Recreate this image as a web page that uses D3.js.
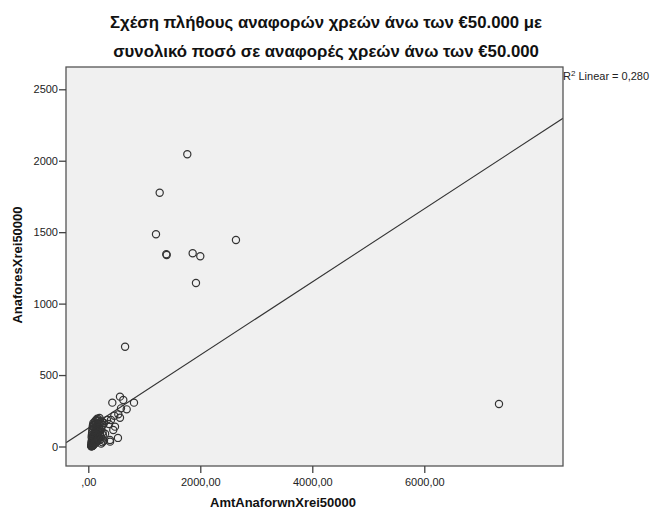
<!DOCTYPE html>
<html>
<head>
<meta charset="utf-8">
<script src="https://cdn.jsdelivr.net/npm/d3@7"></script>
<style>
  html, body { margin: 0; padding: 0; background: #fff; }
  svg { display: block; font-family: "Liberation Sans", Arial, sans-serif; }
</style>
</head>
<body>
<svg id="chart" width="654" height="511"></svg>
<script>
// Amount of debt reports above €50.000 (x) vs number of such reports (y)
const amountValues = [
  // high-count group
  1768, 1275, 1209, 1393, 1400, 1864, 2000, 2637, 1923, 657, 7334,
  // mid group near the fit line
  566, 625, 429, 816, 686, 584, 536, 464, 566, 446, 387, 477, 530, 389, 334, 280, 370, 405,
  // dense low group
  52, 55, 58, 60, 63, 65, 68, 70, 72, 75, 78, 80, 83, 85, 88, 90, 93, 95, 98, 100,
  55, 58, 62, 66, 70, 74, 78, 82, 86, 90, 94, 98, 102, 106, 110, 115, 120, 125, 130, 135,
  140, 145, 150, 155, 160, 165, 170, 175, 180, 185, 190, 200, 210, 215, 225, 235, 245, 255, 265,
  60, 64, 68, 72, 76, 80, 85, 92, 100, 108, 118, 128, 138, 148, 160, 172, 185, 200,
  105, 115, 130, 145, 160, 175, 190, 205, 220, 240, 260, 280, 300, 230, 250
];
const reportCounts = [
  2045, 1776, 1485, 1345, 1340, 1352, 1331, 1445, 1144, 698, 297,
  349, 325, 307, 307, 260, 267, 225, 215, 201, 115, 45, 139, 60, 34, 185, 164, 157, 185,
  2, 5, 1, 8, 3, 12, 6, 15, 4, 10, 20, 7, 14, 25, 9, 18, 30, 12, 22, 35,
  18, 28, 40, 32, 50, 45, 60, 38, 55, 70, 48, 80, 62, 90, 42, 75, 100, 58, 110, 85,
  125, 65, 95, 135, 72, 115, 145, 88, 160, 105, 130, 150, 95, 170, 120, 140, 175, 100, 150,
  65, 80, 95, 110, 125, 140, 150, 165, 130, 155, 170, 180, 160, 185, 195, 178, 190, 200,
  20, 30, 25, 40, 35, 50, 60, 45, 70, 55, 80, 40, 90, 20, 30
];

// Linear fit: count = intercept + slope * amount
const fitIntercept = 128.4;
const fitSlope = 0.2558;
const fitLabel = ["R", "2", " Linear = 0,280"];

const titleLines = [
  "Σχέση πλήθους αναφορών χρεών άνω των €50.000 με",
  "συνολικό ποσό σε αναφορές χρεών άνω των €50.000"
];
const xTitle = "AmtAnaforwnXrei50000";
const yTitle = "AnaforesXrei50000";

const xTickValues = [0, 2000, 4000, 6000];
const xTickLabels = [",00", "2000,00", "4000,00", "6000,00"];
const yTickValues = [0, 500, 1000, 1500, 2000, 2500];
const yTickLabels = ["0", "500", "1000", "1500", "2000", "2500"];

const points = amountValues.map((a, i) => ({ x: a, y: reportCounts[i] }));

const svg = d3.select("#chart");
const frame = { left: 66, right: 563, top: 67, bottom: 466 };

const x = d3.scaleLinear().domain([-398, 8477]).range([frame.left, frame.right]);
const y = d3.scaleLinear().domain([-136.5, 2656]).range([frame.bottom, frame.top]);

// plot background
svg.append("rect")
  .attr("x", frame.left).attr("y", frame.top)
  .attr("width", frame.right - frame.left).attr("height", frame.bottom - frame.top)
  .attr("fill", "#f0f0f0");

svg.append("clipPath").attr("id", "plotclip")
  .append("rect")
  .attr("x", frame.left).attr("y", frame.top)
  .attr("width", frame.right - frame.left).attr("height", frame.bottom - frame.top);

// fit line
const xd = x.domain();
svg.append("line")
  .attr("clip-path", "url(#plotclip)")
  .attr("x1", x(xd[0])).attr("y1", y(fitIntercept + fitSlope * xd[0]))
  .attr("x2", x(xd[1])).attr("y2", y(fitIntercept + fitSlope * xd[1]))
  .attr("stroke", "#333").attr("stroke-width", 1.1);

// points
svg.append("g").attr("clip-path", "url(#plotclip)")
  .selectAll("circle").data(points).join("circle")
  .attr("cx", d => x(d.x)).attr("cy", d => y(d.y))
  .attr("r", 3.6)
  .attr("fill", "none")
  .attr("stroke", "#333")
  .attr("stroke-width", 1.2);

// frame
svg.append("rect")
  .attr("x", frame.left).attr("y", frame.top)
  .attr("width", frame.right - frame.left).attr("height", frame.bottom - frame.top)
  .attr("fill", "none").attr("stroke", "#555").attr("stroke-width", 1.3);

// axes
const yAxis = d3.axisLeft(y)
  .tickValues(yTickValues)
  .tickFormat((d, i) => yTickLabels[i])
  .tickSizeOuter(0).tickSize(7).tickPadding(1);
const gy = svg.append("g").attr("transform", `translate(${frame.left},0)`).call(yAxis);
gy.select(".domain").remove();
gy.selectAll(".tick line").attr("stroke", "#444").attr("stroke-width", 1.3);
gy.selectAll(".tick text").attr("font-size", 11).attr("fill", "#222")
  .attr("font-family", "Liberation Sans, Arial, sans-serif");

const xAxis = d3.axisBottom(x)
  .tickValues(xTickValues)
  .tickFormat((d, i) => xTickLabels[i])
  .tickSizeOuter(0).tickSize(7).tickPadding(5);
const gx = svg.append("g").attr("transform", `translate(0,${frame.bottom})`).call(xAxis);
gx.select(".domain").remove();
gx.selectAll(".tick line").attr("stroke", "#444").attr("stroke-width", 1.3);
gx.selectAll(".tick text").attr("font-size", 11).attr("fill", "#222")
  .attr("font-family", "Liberation Sans, Arial, sans-serif");

// titles
svg.append("text").attr("x", 326).attr("y", 28).attr("text-anchor", "middle")
  .attr("font-size", 16.8).attr("font-weight", "bold").attr("fill", "#111")
  .text(titleLines[0]);
svg.append("text").attr("x", 326).attr("y", 57).attr("text-anchor", "middle")
  .attr("font-size", 16.8).attr("font-weight", "bold").attr("fill", "#111")
  .text(titleLines[1]);

svg.append("text").attr("x", 283).attr("y", 507).attr("text-anchor", "middle")
  .attr("font-size", 13).attr("font-weight", "bold").attr("fill", "#111")
  .text(xTitle);

svg.append("text")
  .attr("transform", "translate(22,265) rotate(-90)")
  .attr("text-anchor", "middle")
  .attr("font-size", 13).attr("font-weight", "bold").attr("fill", "#111")
  .text(yTitle);

// R² annotation
const r2 = svg.append("text").attr("x", frame.right).attr("y", 80)
  .attr("font-size", 11).attr("fill", "#222");
r2.append("tspan").text(fitLabel[0]);
r2.append("tspan").attr("font-size", 8).attr("dy", -4).text(fitLabel[1]);
r2.append("tspan").attr("dy", 4).text(fitLabel[2]);
</script>
</body>
</html>
